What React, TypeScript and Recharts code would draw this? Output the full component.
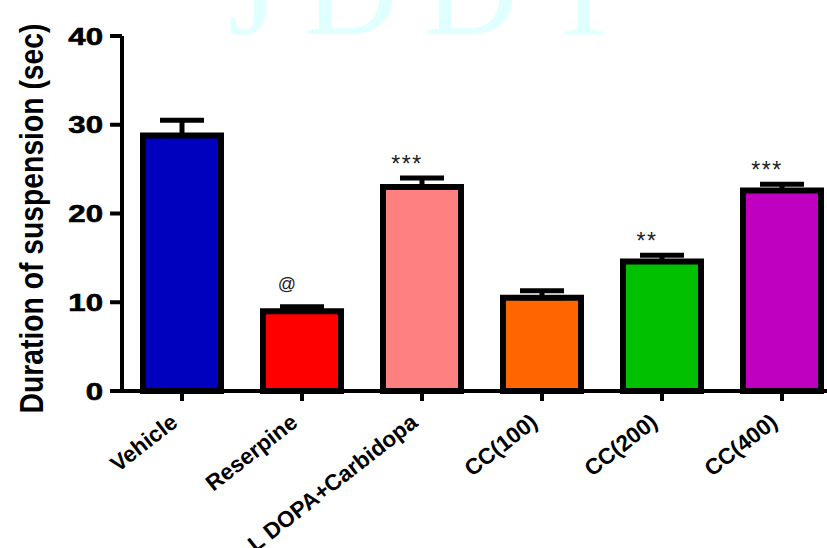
import { BarChart, Bar, XAxis, YAxis, ErrorBar, LabelList, Cell, Label } from 'recharts'

// group names, mean +/- SEM
const groups = ['Vehicle', 'Reserpine', 'L DOPA+Carbidopa', 'CC(100)', 'CC(200)', 'CC(400)']
const means = [28.8, 9.0, 23.0, 10.5, 14.6, 22.6]
const sems = [1.7, 0.5, 1.0, 0.8, 0.7, 0.7]
const marks = ['', '@', '***', '', '**', '***']
const colors = ['#0000BF', '#FF0000', '#FF8080', '#FF6600', '#00C000', '#C000C0']
const yTicks = [0, 10, 20, 30, 40]

const data = groups.map((g, i) => ({
  group: g,
  mean: means[i],
  err: [0, sems[i]], // only the upper whisker is shown
  mark: marks[i],
}))

const sans = '"Liberation Sans", Arial, sans-serif'

function ValueTick({ x, y, payload }: any) {
  return (
    <g transform={`translate(${x - 5},${y}) scale(1.3,1)`}>
      <text x={0} y={0} dy="0.36em" textAnchor="end" fontFamily={sans} fontWeight="bold" fontSize={24} fill="#000" stroke="#000" strokeWidth={0.6}>
        {payload.value}
      </text>
    </g>
  )
}

function GroupTick({ x, y, payload }: any) {
  const tx = x - 3
  const ty = y + 22
  return (
    <text
      x={tx}
      y={ty}
      transform={`rotate(-38 ${tx} ${ty})`}
      textAnchor="end"
      fontFamily={sans}
      fontWeight="bold"
      fontSize={22.5}
      fill="#000"
    >
      {payload.value}
    </text>
  )
}

function MarkLabel(props: any) {
  const { x, y, width, height, value, index } = props
  if (!value) return null
  const perUnit = height / means[index]
  const capY = y - sems[index] * perUnit
  const at = value === '@'
  return (
    <text
      x={x + width / 2 - 15}
      y={capY - (at ? 17 : 6)}
      textAnchor="middle"
      fontFamily={sans}
      fontSize={at ? 18 : 23}
      letterSpacing={at ? 0 : 1.5}
      fill="#222"
    >
      {value}
    </text>
  )
}

function TitleText({ viewBox }: any) {
  const vb = viewBox || { x: 0, y: 36, width: 122, height: 355 }
  const cx = vb.x + 43
  const cy = vb.y + vb.height / 2 + 5
  return (
    <text
      x={cx}
      y={cy}
      transform={`rotate(-90 ${cx} ${cy})`}
      textAnchor="middle"
      fontFamily={sans}
      fontWeight="bold"
      fontSize={34}
      textLength={390}
      lengthAdjust="spacingAndGlyphs"
      fill="#000"
    >
      Duration of suspension (sec)
    </text>
  )
}

export default function App() {
  return (
    <div style={{ position: 'absolute', left: 0, top: 0, width: 827, height: 548, overflow: 'hidden', background: '#fff' }}>
      <svg width={827} height={548} style={{ position: 'absolute', left: 0, top: 0 }}>
        <text x={228} y={34} fontFamily='"Liberation Serif", serif' fontSize={130} letterSpacing={26} fill="#E0FFFF">
          JDDT
        </text>
      </svg>
      <div style={{ position: 'absolute', left: 0, top: 0 }}>
        <BarChart width={850} height={548} data={data} margin={{ top: 36, right: 8, left: 0, bottom: 0 }}>
          <XAxis
            dataKey="group"
            interval={0}
            height={157}
            tickSize={10}
            axisLine={{ stroke: '#000', strokeWidth: 4 }}
            tickLine={{ stroke: '#000', strokeWidth: 4 }}
            tick={<GroupTick />}
          />
          <YAxis
            width={122}
            domain={[0, 40]}
            ticks={yTicks}
            tickSize={12}
            axisLine={{ stroke: '#000', strokeWidth: 4 }}
            tickLine={{ stroke: '#000', strokeWidth: 4 }}
            tick={<ValueTick />}
          >
            <Label content={(p: any) => <TitleText viewBox={p.viewBox} />} />
          </YAxis>
          <Bar dataKey="mean" barSize={78} stroke="#000" strokeWidth={6} isAnimationActive={false}>
            {data.map((_, i) => (
              <Cell key={i} fill={colors[i]} />
            ))}
            <ErrorBar dataKey="err" width={22} strokeWidth={5} stroke="#000" isAnimationActive={false} />
            <LabelList dataKey="mark" content={<MarkLabel />} />
          </Bar>
        </BarChart>
      </div>
    </div>
  )
}
